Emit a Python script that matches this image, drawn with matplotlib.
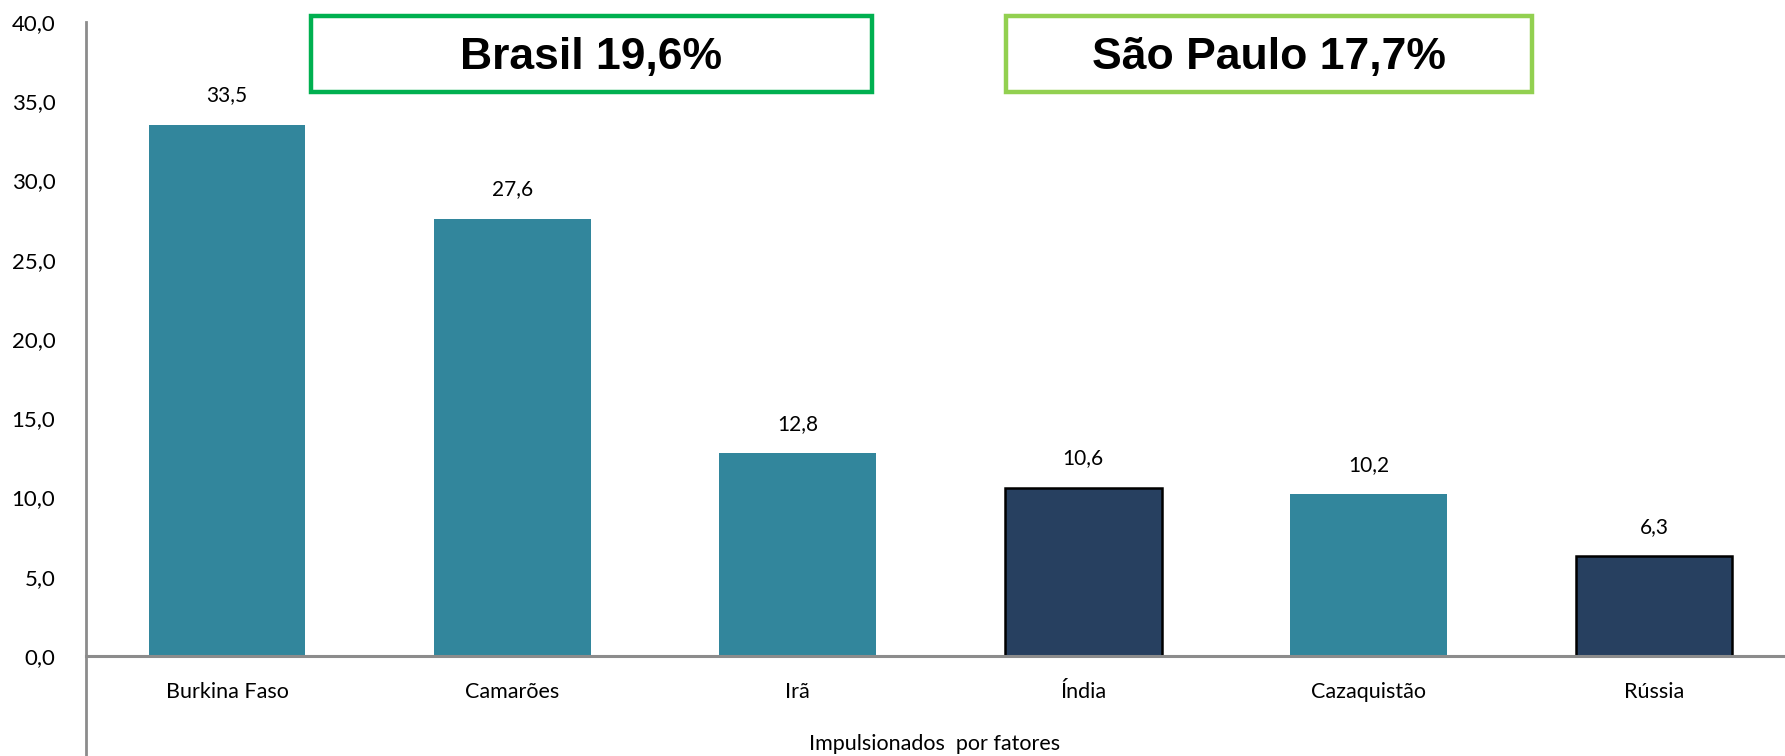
import matplotlib
matplotlib.use('Agg')
import matplotlib.pyplot as plt
from matplotlib.patches import Rectangle

# data
paises = ['Burkina Faso', 'Camarões', 'Irã', 'Índia', 'Cazaquistão', 'Rússia']
valores = [33.5, 27.6, 12.8, 10.6, 10.2, 6.3]
destaque = [False, False, False, True, False, True]  # dark bars with black edge
yticks = [0, 5, 10, 15, 20, 25, 30, 35, 40]
caixas = [('Brasil 19,6%', '#00B050'), ('São Paulo 17,7%', '#92D050')]

W, H = 1785, 756
fig = plt.figure(figsize=(W/100, H/100), dpi=100)
ax = fig.add_axes([86/W, 0, 1 - 86/W, 1 - 22/H])

# spine position first, it resets the tick labels
for s in ['top', 'right']:
    ax.spines[s].set_visible(False)
ax.spines['bottom'].set_position(('data', 0))
ax.spines['bottom'].set_color('#8C8C8C')
ax.spines['bottom'].set_linewidth(2.2)
ax.spines['bottom'].set_zorder(3)
ax.spines['left'].set_color('#8C8C8C')
ax.spines['left'].set_linewidth(2)

teal = '#32869C'
navy = '#274060'
x = list(range(len(paises)))
for xi, v, d in zip(x, valores, destaque):
    if d:
        ax.bar(xi, v, width=0.55, color=navy, edgecolor='black', linewidth=1.8, zorder=2)
    else:
        ax.bar(xi, v, width=0.55, color=teal, linewidth=0, zorder=2)
    ax.annotate(f'{v:.1f}'.replace('.', ','), (xi, v), xytext=(0, 14), textcoords='offset points',
                ha='center', va='bottom', fontsize=15, family='Lato')

ax.set_xlim(-0.494, 5.459)
ax.set_ylim(-6.31, 40)
ax.set_yticks(yticks)
ax.set_yticklabels([f'{t:.1f}'.replace('.', ',') for t in yticks], family='Lato', fontsize=16)
ax.set_xticks(x)
ax.set_xticklabels(paises, family='Lato', fontsize=15.5)
ax.tick_params(axis='y', length=0, pad=22)
ax.tick_params(axis='x', length=0, pad=19)

fig.text(935/W, 1 - 744/H, 'Impulsionados  por fatores', ha='center', va='center',
         family='Lato', fontsize=15.5)

# boxes with national / state values
limites = [(311, 872), (1006, 1532)]
for (txt, cor), (x0, x1) in zip(caixas, limites):
    fig.add_artist(Rectangle((x0/W, 1 - 92/H), (x1 - x0)/W, 76/H, transform=fig.transFigure,
                             facecolor='white', edgecolor=cor, linewidth=3.2, zorder=5))
    fig.text((x0 + x1)/2/W, 1 - 58/H, txt, ha='center', va='center', fontsize=32,
             fontweight='bold', family='Liberation Sans', zorder=6)

fig.savefig('out.png', dpi=100)
